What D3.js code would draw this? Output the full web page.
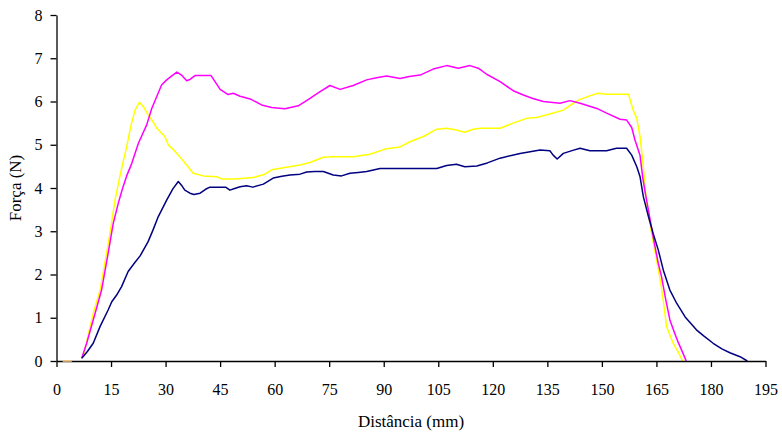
<!DOCTYPE html>
<html>
<head>
<meta charset="utf-8">
<script src="https://cdn.jsdelivr.net/npm/d3@7"></script>
<style>
  html, body { margin: 0; padding: 0; background: #fff; }
  svg { display: block; }
  text { font-family: "Liberation Serif", "Times New Roman", serif; fill: #000; }
</style>
</head>
<body>
<svg id="chart" width="782" height="432"></svg>
<script>
// ---- data ----
const xTicks = [0, 15, 30, 45, 60, 75, 90, 105, 120, 135, 150, 165, 180, 195];
const yTicks = [0, 1, 2, 3, 4, 5, 6, 7, 8];
const xLabel = "Distância (mm)";
const yLabel = "Força (N)";

// short baseline segment before the curves start
const baseSegment = [[1.7, 0], [4.2, 0]];

const serieAzul = [[7,0.07],[8.5,0.22],[10.1,0.41],[12,0.8],[14.2,1.18],[15.2,1.37],[16.5,1.52],[17.9,1.72],[19.7,2.07],[21.5,2.27],[23,2.43],[25.2,2.76],[26.5,3.02],[28,3.34],[30.3,3.72],[32,3.98],[33.5,4.15],[34.5,4.05],[35.3,3.95],[36.7,3.88],[37.8,3.85],[39.5,3.88],[41,3.97],[42.2,4.02],[45,4.02],[46.5,4.02],[47.7,3.95],[49,3.99],[50.5,4.03],[52.3,4.05],[54,4.02],[56.9,4.09],[59.6,4.23],[62,4.27],[64.2,4.3],[67,4.32],[68.8,4.37],[71,4.38],[73.4,4.38],[76.1,4.3],[78.4,4.28],[80.7,4.34],[83,4.36],[85.3,4.38],[89,4.45],[104.6,4.45],[107.3,4.52],[110,4.55],[112.3,4.49],[115.6,4.51],[118.5,4.58],[122,4.69],[127.5,4.8],[133,4.88],[135.7,4.86],[136.6,4.76],[137.7,4.67],[139.4,4.8],[142,4.87],[144,4.92],[146.7,4.86],[151.3,4.86],[154,4.92],[156.8,4.92],[158.2,4.76],[159.6,4.49],[160.5,4.26],[161.4,3.8],[162.8,3.34],[164.1,2.95],[165.5,2.57],[166.9,2.1],[168.7,1.64],[170.6,1.33],[172.9,1.02],[176,0.72],[178,0.58],[180.6,0.41],[183,0.28],[185.2,0.19],[188,0.1],[190,0]];

const serieMagenta = [[6.9,0.06],[8.3,0.41],[10.6,1.1],[12.4,1.64],[14.2,2.49],[15.6,3.18],[17,3.65],[18.2,4.0],[19.3,4.28],[20.7,4.57],[22.5,5.03],[24.8,5.46],[26.2,5.84],[28.9,6.38],[30.3,6.5],[31.8,6.6],[33.1,6.68],[34.4,6.61],[35.8,6.48],[36.7,6.51],[38.1,6.6],[42.5,6.6],[43.6,6.46],[45,6.28],[47.2,6.16],[48.6,6.19],[50.5,6.12],[53.5,6.05],[56.4,5.92],[59.2,5.86],[62.8,5.83],[66.5,5.9],[69.3,6.05],[72.5,6.23],[75.2,6.37],[78,6.28],[81.6,6.37],[85.3,6.5],[88,6.55],[90.8,6.59],[94.5,6.53],[97,6.58],[100,6.61],[103.6,6.75],[107.3,6.83],[110.5,6.77],[113.7,6.83],[116,6.77],[118.3,6.63],[122,6.46],[125.6,6.25],[128.4,6.15],[131,6.07],[133.9,6.0],[138.5,5.96],[141.2,6.02],[144,5.96],[148.6,5.84],[151.3,5.73],[155,5.59],[156.8,5.57],[158.2,5.4],[159.1,5.11],[160.5,4.75],[161.2,4.26],[161.9,3.9],[162.8,3.49],[164.1,2.87],[165.5,2.26],[166.4,1.95],[167.5,1.45],[168.7,0.95],[170,0.65],[171,0.43],[172.2,0.2],[173.2,0]];

const serieAmarela = [[6.7,0.07],[7.4,0.1],[8.7,0.6],[10.1,1.1],[12,1.64],[13.3,2.26],[14.7,2.95],[16.1,3.72],[17.5,4.3],[19.3,4.95],[20.4,5.42],[21.6,5.8],[22.8,5.98],[23.9,5.88],[25.2,5.69],[26.4,5.55],[27.6,5.38],[29.8,5.19],[30.8,4.99],[32,4.9],[33.5,4.76],[35.8,4.53],[37.6,4.34],[40.4,4.28],[44.1,4.26],[45.4,4.21],[49.1,4.21],[54.1,4.24],[57.3,4.32],[59.2,4.42],[62.4,4.47],[67,4.53],[69.7,4.59],[73.4,4.71],[76.1,4.72],[81.6,4.72],[86.2,4.78],[90.8,4.91],[94.5,4.95],[97.2,5.07],[100.9,5.19],[104.6,5.36],[107.3,5.38],[110,5.34],[112.3,5.29],[114.6,5.36],[116.5,5.38],[122,5.38],[125.6,5.5],[129.3,5.61],[132.1,5.63],[135.7,5.71],[139.4,5.8],[142,5.95],[144,6.05],[146.7,6.13],[149,6.19],[151.3,6.17],[157.3,6.17],[158.6,5.8],[159.6,5.61],[160.5,5.19],[161.2,4.65],[161.9,4.03],[162.3,3.65],[163.5,3.03],[164.9,2.41],[166.2,1.8],[167.1,1.26],[167.8,0.79],[168.7,0.6],[169.6,0.41],[170.7,0.25],[172.2,0]];

const seriesList = [
  { name: "amarela", data: serieAmarela, color: "#FFFF00" },
  { name: "magenta", data: serieMagenta, color: "#FF00FF" },
  { name: "azul", data: serieAzul, color: "#000080" }
];

// ---- layout ----
const svg = d3.select("#chart");
const x = d3.scaleLinear().domain([0, 195]).range([56.5, 765.5]);
const y = d3.scaleLinear().domain([0, 8]).range([361, 15]);

const line = d3.line()
  .x(d => x(d[0]))
  .y(d => y(d[1]));

// series
seriesList.forEach(s => {
  svg.append("path")
    .datum(s.data)
    .attr("d", line)
    .attr("fill", "none")
    .attr("stroke", s.color)
    .attr("stroke-width", 1.5)
    .attr("stroke-linejoin", "round");
});

// axes
const xAxis = svg.append("g")
  .attr("transform", `translate(0,${y(0)})`)
  .call(d3.axisBottom(x).tickValues(xTicks).tickSize(6).tickPadding(17).tickSizeOuter(0));
const yAxis = svg.append("g")
  .attr("transform", `translate(${x(0)},0)`)
  .call(d3.axisLeft(y).tickValues(yTicks).tickSize(6).tickPadding(8).tickSizeOuter(0));

[xAxis, yAxis].forEach(g => {
  g.attr("font-family", null).attr("font-size", null);
  g.select(".domain").attr("stroke", "#000").attr("stroke-width", 1.3);
  g.selectAll(".tick line").attr("stroke", "#000").attr("stroke-width", 1.3);
  g.selectAll(".tick text")
    .attr("fill", "#000")
    .style("font-family", '"Liberation Serif", "Times New Roman", serif')
    .style("font-size", "16px");
});

// baseline segment (drawn over the axis line, as in the original)
svg.append("path")
  .datum(baseSegment)
  .attr("d", line)
  .attr("fill", "none")
  .attr("stroke", "#F5C27A")
  .attr("stroke-width", 1.6);

// axis titles
svg.append("text")
  .attr("x", 411)
  .attr("y", 427)
  .attr("text-anchor", "middle")
  .style("font-family", '"Liberation Serif", "Times New Roman", serif')
  .style("font-size", "17px")
  .text(xLabel);

svg.append("text")
  .attr("transform", "translate(21,188) rotate(-90)")
  .attr("text-anchor", "middle")
  .style("font-family", '"Liberation Serif", "Times New Roman", serif')
  .style("font-size", "17px")
  .text(yLabel);
</script>
</body>
</html>
